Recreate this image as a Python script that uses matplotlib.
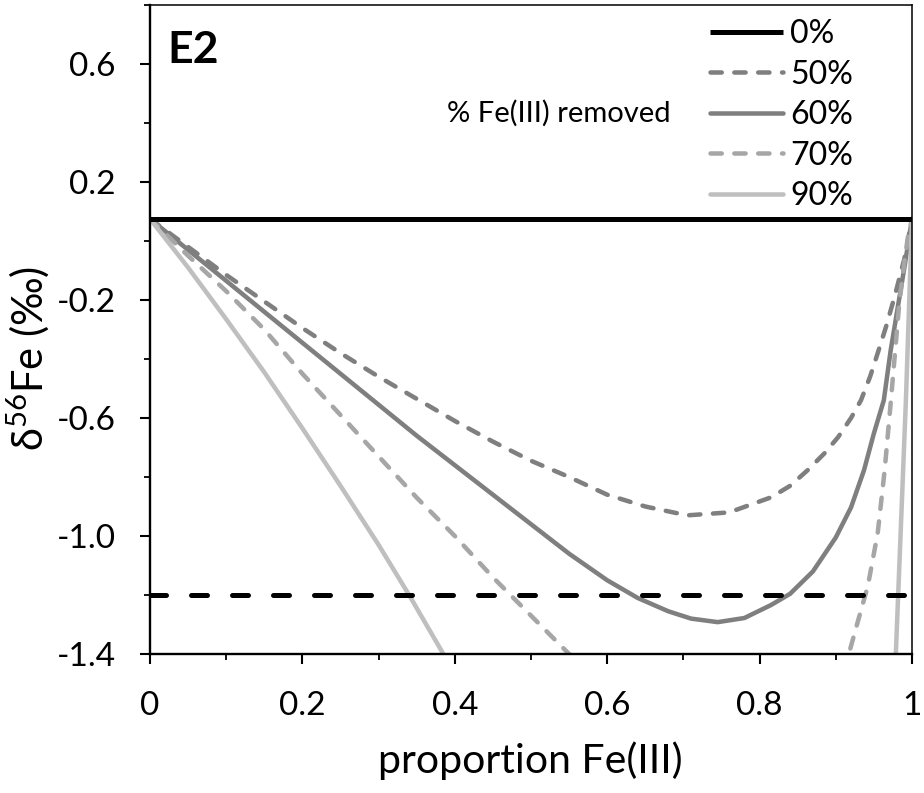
import numpy as np
import matplotlib
matplotlib.use("Agg")
import matplotlib.pyplot as plt
from matplotlib.ticker import MultipleLocator, FixedLocator

plt.rcParams['font.family'] = ['Lato', 'Open Sans', 'DejaVu Sans']
plt.rcParams['mathtext.fontset'] = 'custom'
plt.rcParams['mathtext.rm'] = 'Lato'
plt.rcParams['mathtext.it'] = 'Lato:italic'

# ---- data ----
baseline_0 = 0.075          # 0% removed
threshold = -1.2            # dashed reference line

x50 = [0, 0.05, 0.1, 0.15, 0.2, 0.25, 0.3, 0.35, 0.4, 0.45, 0.5, 0.55, 0.6, 0.65, 0.705, 0.76,
       0.815, 0.84, 0.863, 0.885, 0.903, 0.92, 0.933, 0.945, 0.955, 0.966, 0.977, 0.99, 1.0]
y50 = [0.075, -0.02, -0.115, -0.205, -0.295, -0.38, -0.46, -0.535, -0.61, -0.68, -0.745, -0.80, -0.86, -0.90, -0.93, -0.92,
       -0.869, -0.83, -0.777, -0.72, -0.665, -0.60, -0.54, -0.46, -0.38, -0.29, -0.19, -0.06, 0.075]

x60 = [0, 0.05, 0.1, 0.15, 0.2, 0.25, 0.3, 0.35, 0.4, 0.45, 0.5, 0.55, 0.6, 0.64, 0.68, 0.71, 0.745,
       0.78, 0.815, 0.84, 0.87, 0.9, 0.92, 0.937, 0.95, 0.963, 0.972, 0.981, 0.99, 1.0]
y60 = [0.075, -0.03, -0.135, -0.24, -0.345, -0.45, -0.555, -0.66, -0.76, -0.86, -0.96, -1.06, -1.15, -1.21, -1.255, -1.28, -1.292,
       -1.278, -1.234, -1.196, -1.12, -1.005, -0.903, -0.777, -0.652, -0.54, -0.371, -0.23, -0.09, 0.075]

x70 = [0, 0.05, 0.1, 0.15, 0.2, 0.25, 0.3, 0.35, 0.4, 0.45, 0.5, 0.55, 0.57,
       np.nan, 0.912, 0.916, 0.93, 0.942, 0.955, 0.964, 0.972, 0.983, 0.99, 0.995, 1.0]
y70 = [0.075, -0.05, -0.17, -0.30, -0.45, -0.59, -0.73, -0.87, -1.00, -1.14, -1.27, -1.40, -1.46,
       np.nan, -1.46, -1.41, -1.28, -1.17, -0.99, -0.78, -0.55, -0.22, -0.07, 0.02, 0.075]

x90 = [0, 0.05, 0.1, 0.15, 0.2, 0.25, 0.3, 0.34, 0.385, 0.39,
       np.nan, 0.978, 0.992, 1.0]
y90 = [0.075, -0.09, -0.265, -0.445, -0.635, -0.83, -1.03, -1.20, -1.40, -1.43,
       np.nan, -1.45, -0.54, 0.075]

series_labels = ['0%', '50%', '60%', '70%', '90%']
xticks = [0, 0.2, 0.4, 0.6, 0.8, 1.0]
xticklabels = ['0', '0.2', '0.4', '0.6', '0.8', '1']
yticks = [0.6, 0.2, -0.2, -0.6, -1.0, -1.4]
yticklabels = ['0.6', '0.2', '-0.2', '-0.6', '-1.0', '-1.4']

# ---- figure ----
W, H = 924, 793
fig = plt.figure(figsize=(W / 100, H / 100), dpi=100)
ax = fig.add_axes([150 / W, (H - 654) / H, 762 / W, 649 / H])

px = 72 / 100
lw = 4.5 * px
lwb = 5 * px

ax.axhline(baseline_0, color='black', lw=lwb, solid_capstyle='butt', label=series_labels[0], zorder=3)
ax.axhline(threshold, color='black', lw=lwb, dashes=(3.2, 5.0), dash_capstyle='round', zorder=3)

ax.plot(x50, y50, color='#7f7f7f', lw=lw, dashes=(2.5, 2.8), dash_capstyle='round', label=series_labels[1])
ax.plot(x60, y60, color='#7f7f7f', lw=lw, solid_capstyle='round', solid_joinstyle='round', label=series_labels[2])
ax.plot(x70, y70, color='#a6a6a6', lw=lw, dashes=(2.5, 2.8), dash_capstyle='round', label=series_labels[3])
ax.plot(x90, y90, color='#bfbfbf', lw=lw, solid_capstyle='round', solid_joinstyle='round', label=series_labels[4])

ax.set_xlim(0, 1)
ax.set_ylim(-1.4, 0.8)

ax.xaxis.set_major_locator(FixedLocator(xticks))
ax.set_xticklabels(xticklabels)
ax.xaxis.set_minor_locator(MultipleLocator(0.1))
ax.yaxis.set_major_locator(FixedLocator(yticks))
ax.set_yticklabels(yticklabels)
ax.yaxis.set_minor_locator(FixedLocator([0.8, 0.4, 0.0, -0.4, -0.8, -1.2]))

ax.tick_params(which='major', direction='out', length=7.5, width=1.5, labelsize=24, pad=17)
ax.tick_params(which='minor', direction='out', length=4.5, width=1.3)
ax.tick_params(axis='x', which='major', pad=19)

for s in ['left', 'bottom']:
    ax.spines[s].set_linewidth(1.7)
for s in ['top', 'right']:
    ax.spines[s].set_linewidth(1.1)

fig.text(530 / W, 1 - 773 / H, 'proportion Fe(III)', fontsize=29.5, ha='center', va='baseline')
fig.text(28 / W, 1 - 358 / H, 'δ$^{56}$Fe (‰)', fontsize=30, ha='center', va='center', rotation=90)

ax.text(17 / 762, (654 - 63) / 649, 'E2', transform=ax.transAxes, fontsize=32, fontweight='bold',
        va='baseline', ha='left')
ax.text((558.5 - 150) / 762, (654 - 113) / 649, '% Fe(III) removed', transform=ax.transAxes,
        fontsize=21, va='center', ha='center')

fs_leg = 23
leg = ax.legend(loc='upper left', bbox_to_anchor=((710 - 150) / 762, (654 - 19) / 649), frameon=False,
                fontsize=fs_leg, handlelength=73 / (fs_leg / px), handletextpad=0.22,
                labelspacing=0.33, borderaxespad=0, borderpad=0)

fig.savefig('out.png', dpi=100)
